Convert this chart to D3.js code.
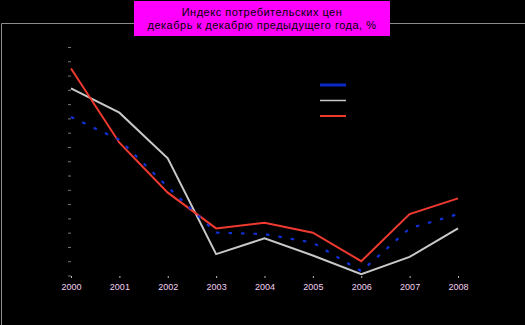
<!DOCTYPE html>
<html><head><meta charset="utf-8">
<script src="https://cdn.jsdelivr.net/npm/d3@7"></script>
<style>html,body{margin:0;padding:0;background:#000;}svg{display:block;}</style>
</head><body>
<script>
const years = ["2000","2001","2002","2003","2004","2005","2006","2007","2008"];
const seriesBlue = [17.1, 15.5, 12.2, 9.0, 8.9, 8.3, 6.3, 9.3, 10.3];
const seriesGray = [19.1, 17.4, 14.2, 7.5, 8.6, 7.4, 6.1, 7.3, 9.3];
const seriesRed  = [20.5, 15.3, 11.8, 9.3, 9.7, 9.0, 7.0, 10.3, 11.4];
const yTicks = d3.range(6, 23, 1);
const titleLines = ["Индекс потребительских цен", "декабрь к декабрю предыдущего года, %"];

const W = 525, H = 325;
const svg = d3.select("body").append("svg").attr("width", W).attr("height", H);
svg.append("rect").attr("width", W).attr("height", H).attr("fill", "#000");

// outer chart border (top & left visible)
svg.append("path").attr("d", `M1.5,${H} V23.5 H${W}`).attr("fill", "none").attr("stroke", "#8c8c8c").attr("stroke-width", 1);

const x = d3.scalePoint().domain(years).range([71, 458]);
const y = d3.scaleLinear().domain([6, 22]).range([275.5, 47]);

// y axis (tick marks only)
const yAxis = svg.append("g").attr("transform", "translate(71,0)")
  .call(d3.axisLeft(y).tickValues(yTicks).tickSize(3).tickFormat(""));
yAxis.select(".domain").remove();
yAxis.selectAll("line").attr("stroke", "#777");

// x axis
const xAxis = svg.append("g").attr("transform", "translate(0,278)")
  .call(d3.axisTop(x).tickSize(2).tickPadding(0));
xAxis.select(".domain").remove();
xAxis.selectAll("line").attr("stroke", "#bbb");
xAxis.selectAll("text").attr("fill", "#f4d0f4").attr("font-family", "Liberation Sans, Arial, sans-serif")
  .attr("font-size", 9).attr("y", 12).attr("dy", 0);

const line = d3.line().x((d, i) => x(years[i])).y(d => y(d));

svg.append("path").datum(seriesGray).attr("d", line).attr("fill", "none")
  .attr("stroke", "#c8c8c8").attr("stroke-width", 2);
svg.append("path").datum(seriesRed).attr("d", line).attr("fill", "none")
  .attr("stroke", "#f03a30").attr("stroke-width", 2);
svg.append("path").datum(seriesBlue).attr("d", line).attr("fill", "none")
  .attr("stroke", "#1030d8").attr("stroke-width", 2.2).attr("stroke-dasharray", "3.5,9");

// legend swatches
const legend = [["#0a28c8", 3], ["#c8c8c8", 1.5], ["#f03a30", 2]];
legend.forEach((l, i) => {
  svg.append("line").attr("x1", 320).attr("x2", 346).attr("y1", 85 + i * 15.5).attr("y2", 85 + i * 15.5)
    .attr("stroke", l[0]).attr("stroke-width", l[1]);
});

// title box
svg.append("rect").attr("x", 134).attr("y", 1).attr("width", 256).attr("height", 35).attr("fill", "#ff00ff");
titleLines.forEach((t, i) => {
  svg.append("text").attr("x", 262).attr("y", 16 + i * 13).attr("text-anchor", "middle")
    .attr("font-family", "Liberation Sans, Arial, sans-serif").attr("font-size", 11)
    .attr("letter-spacing", 0.5).attr("fill", "#000").text(t);
});
</script>
</body></html>
